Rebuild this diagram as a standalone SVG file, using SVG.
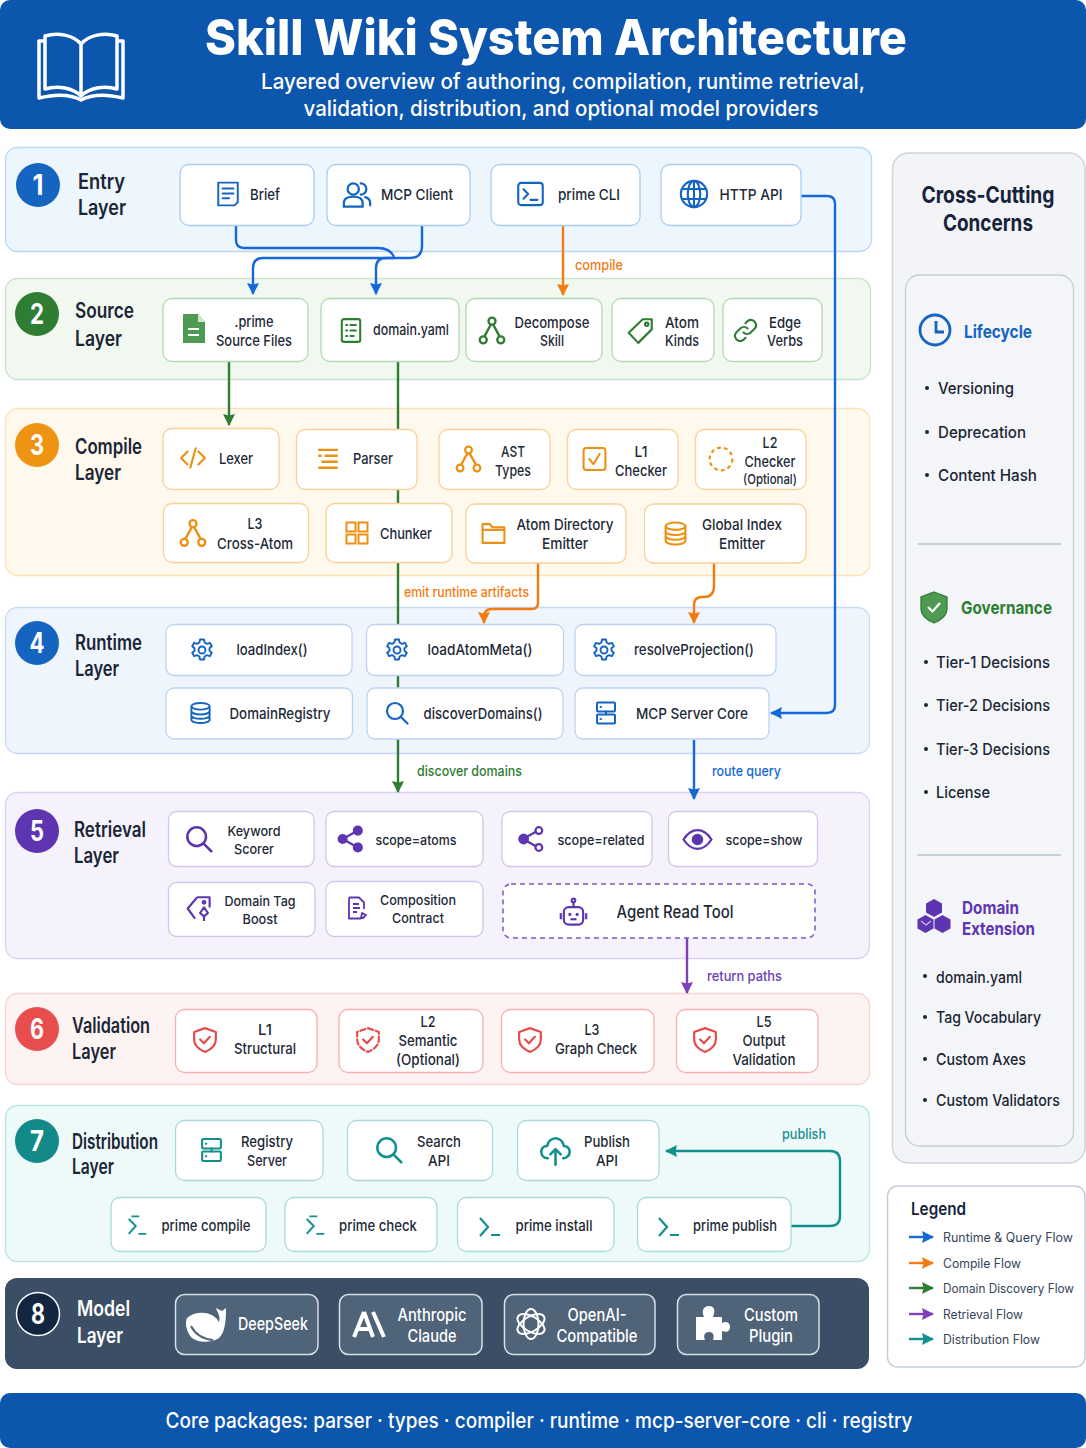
<svg xmlns="http://www.w3.org/2000/svg" width="1086" height="1448" viewBox="0 0 1086 1448">
<style>
text{font-family:Inter,"Noto Sans",sans-serif}
.nt{font-size:15px;font-weight:500;text-anchor:middle;fill:#1d2936}
.nts{font-size:13.5px;font-weight:500;text-anchor:middle;fill:#1d2936}
.mt{font-size:17px;font-weight:500;text-anchor:middle;fill:#fff}
.lt{font-size:21px;font-weight:600;fill:#1a2535}
.ltw{font-size:21px;font-weight:600;fill:#fff}
.bn{font-size:28px;font-weight:700;fill:#fff;text-anchor:middle}
.cl{font-size:14px;font-weight:500}
.item{font-size:16px;font-weight:500;fill:#1a2535}
.lg{font-size:12.5px;font-weight:400;fill:#36445a}
.sh{font-weight:700;font-size:18px}
.n{fill:#fff;stroke-width:1.3}
.b1{stroke:#a9cdf2}.b2{stroke:#b5d8b5}.b3{stroke:#f9d096}.b4{stroke:#bad4f0}.b5{stroke:#d2c6ec}.b6{stroke:#f6b0b0}.b7{stroke:#a8dbd8}
.b8{fill:#4f6379;stroke:#d7dee6;stroke-width:1.5}
.line{fill:none;stroke-width:2.4}
.ic{color:#1565c0}.ig{color:#2e7d32}.io{color:#ec9012}.ip{color:#5e35b1}.ir{color:#e64a4a}.it{color:#12908e}.iw{color:#fff}
</style>
<defs>
<marker id="mb" markerUnits="userSpaceOnUse" markerWidth="13" markerHeight="13" refX="11" refY="6.5" orient="auto"><path d="M0 0.500L12 6.500L0 12.500L1.500 6.500z" fill="#1668d9"/></marker>
<marker id="mo" markerUnits="userSpaceOnUse" markerWidth="13" markerHeight="13" refX="11" refY="6.5" orient="auto"><path d="M0 0.500L12 6.500L0 12.500L1.500 6.500z" fill="#f47a12"/></marker>
<marker id="mg" markerUnits="userSpaceOnUse" markerWidth="13" markerHeight="13" refX="11" refY="6.5" orient="auto"><path d="M0 0.500L12 6.500L0 12.500L1.500 6.500z" fill="#2e7d32"/></marker>
<marker id="mp" markerUnits="userSpaceOnUse" markerWidth="13" markerHeight="13" refX="11" refY="6.5" orient="auto"><path d="M0 0.500L12 6.500L0 12.500L1.500 6.500z" fill="#7e3fb8"/></marker>
<marker id="mt" markerUnits="userSpaceOnUse" markerWidth="13" markerHeight="13" refX="11" refY="6.5" orient="auto"><path d="M0 0.500L12 6.500L0 12.500L1.500 6.500z" fill="#12908e"/></marker>
<symbol id="i-doc" viewBox="0 0 24 24"><path d="M3 1.500h18v18l-3 3H3zM7 7h10M7 11.500h10M7 16h6" fill="none" stroke="currentColor" stroke-width="1.800" stroke-linejoin="round" stroke-linecap="round"/></symbol>
<symbol id="i-users" viewBox="0 0 24 24"><g fill="none" stroke="currentColor" stroke-width="1.800" stroke-linecap="round"><circle cx="9" cy="8" r="4.500"/><path d="M1.500 22v-3c0-3 3-5 7.500-5s7.500 2 7.500 5v3zM15 3.500a4.500 4.500 0 0 1 0 9M18.500 14.500c2.500.8 4 2.500 4 4.500v2"/></g></symbol>
<symbol id="i-term" viewBox="0 0 24 24"><g fill="none" stroke="currentColor" stroke-width="1.800" stroke-linecap="round" stroke-linejoin="round"><rect x="1.500" y="2.500" width="21" height="19" rx="2.500"/><path d="M6 8l4 4-4 4M12 17h6"/></g></symbol>
<symbol id="i-globe" viewBox="0 0 24 24"><g fill="none" stroke="currentColor" stroke-width="1.700"><circle cx="12" cy="12" r="10.500"/><ellipse cx="12" cy="12" rx="5" ry="10.500"/><path d="M12 1.500v21M2 8h20M2 16h20"/></g></symbol>
<symbol id="i-list" viewBox="0 0 24 24"><g fill="none" stroke="currentColor" stroke-width="1.900" stroke-linecap="round"><rect x="3.500" y="1.500" width="17" height="21" rx="2"/><path d="M7.500 7h1M11.500 7h5M7.500 12h1M11.500 12h5M7.500 17h1M11.500 17h3"/></g></symbol>
<symbol id="i-tree" viewBox="0 0 24 24"><g fill="none" stroke="currentColor" stroke-width="2"><circle cx="12" cy="4" r="3"/><circle cx="4.500" cy="20" r="3"/><circle cx="19.500" cy="20" r="3"/><path d="M11 7L5.500 17M13 7l5.500 10"/></g></symbol>
<symbol id="i-tag" viewBox="0 0 24 24"><g fill="none" stroke="currentColor" stroke-width="1.900" stroke-linejoin="round"><path d="M14 2h8v9L10 23 1.500 14z"/><circle cx="17.500" cy="6.500" r="1.500"/></g></symbol>
<symbol id="i-link" viewBox="0 0 24 24"><g fill="none" stroke="currentColor" stroke-width="2" stroke-linecap="round"><path d="M10 14a5 5 0 0 0 7 0l4-4a5 5 0 0 0-7-7l-2 2"/><path d="M14 10a5 5 0 0 0-7 0l-4 4a5 5 0 0 0 7 7l2-2"/></g></symbol>
<symbol id="i-code" viewBox="0 0 24 24"><path d="M7 6l-6 6 6 6M17 6l6 6-6 6M14.500 3l-5 18" fill="none" stroke="currentColor" stroke-width="2" stroke-linecap="round" stroke-linejoin="round"/></symbol>
<symbol id="i-lines" viewBox="0 0 24 24"><path d="M3 4h18M3 9.500h3M9 9.500h12M6 15h15M3 20.500h18" fill="none" stroke="currentColor" stroke-width="2.200"/></symbol>
<symbol id="i-check" viewBox="0 0 24 24"><g fill="none" stroke="currentColor" stroke-width="2" stroke-linecap="round" stroke-linejoin="round"><rect x="1.500" y="1.500" width="21" height="21" rx="2.500"/><path d="M7 12l4 5 6-10"/></g></symbol>
<symbol id="i-dash" viewBox="0 0 24 24"><circle cx="12" cy="12" r="10.500" fill="none" stroke="currentColor" stroke-width="2" stroke-dasharray="3.500 3"/></symbol>
<symbol id="i-grid" viewBox="0 0 24 24"><g fill="none" stroke="currentColor" stroke-width="2"><rect x="1.500" y="1.500" width="9" height="9"/><rect x="13.500" y="1.500" width="9" height="9"/><rect x="1.500" y="13.500" width="9" height="9"/><rect x="13.500" y="13.500" width="9" height="9"/></g></symbol>
<symbol id="i-folder" viewBox="0 0 24 24"><path d="M1.500 21.500V3.500h7l2.500 3h11.500v15zM1.500 9h21" fill="none" stroke="currentColor" stroke-width="2" stroke-linejoin="round"/></symbol>
<symbol id="i-db" viewBox="0 0 24 24"><g fill="none" stroke="currentColor" stroke-width="2"><ellipse cx="12" cy="5" rx="9.500" ry="3.500"/><path d="M2.500 5v14c0 2 4.300 3.500 9.500 3.500s9.500-1.500 9.500-3.500V5M2.500 10c0 2 4.300 3.500 9.500 3.500s9.500-1.500 9.500-3.500M2.500 14.500c0 2 4.300 3.500 9.500 3.500s9.500-1.500 9.500-3.500"/></g></symbol>
<symbol id="i-gear" viewBox="0 0 24 24"><g fill="none" stroke="currentColor" stroke-width="1.900" stroke-linejoin="round"><path d="M10 1.500h4l.6 3 2.300 1.300 2.900-1 2 3.500-2.300 2v2.400l2.300 2-2 3.500-2.900-1-2.300 1.300-.6 3h-4l-.6-3-2.300-1.300-2.900 1-2-3.500 2.300-2v-2.400l-2.300-2 2-3.500 2.900 1 2.300-1.300z"/><circle cx="12" cy="12" r="3.500"/></g></symbol>
<symbol id="i-search" viewBox="0 0 24 24"><g fill="none" stroke="currentColor" stroke-width="2.200" stroke-linecap="round"><circle cx="10" cy="10" r="8"/><path d="M16 16l6.500 6.500"/></g></symbol>
<symbol id="i-server" viewBox="0 0 24 24"><g fill="none" stroke="currentColor" stroke-width="2" stroke-linecap="round"><rect x="3" y="1.500" width="18" height="9" rx="1"/><rect x="3" y="13.500" width="18" height="9" rx="1"/><path d="M6.500 6h.5M6.500 18h.5M12 10.500v3"/></g></symbol>
<symbol id="i-share" viewBox="0 0 24 24"><g fill="currentColor" stroke="currentColor" stroke-width="2"><circle cx="5" cy="12" r="3.500"/><circle cx="18.500" cy="4.500" r="3.500"/><circle cx="18.500" cy="19.500" r="3.500"/><path d="M5 12L18.500 4.500M5 12l13.500 7.500"/></g></symbol>
<symbol id="i-share2" viewBox="0 0 24 24"><g stroke="currentColor" stroke-width="2"><circle cx="5" cy="12" r="3.800" fill="currentColor"/><circle cx="18.500" cy="4.500" r="3" fill="#fff"/><circle cx="18.500" cy="19.500" r="3" fill="#fff"/><path d="M8 10l8-4.500M8 14l8 4.500"/></g></symbol>
<symbol id="i-eye" viewBox="0 0 30 24"><g fill="none" stroke="currentColor" stroke-width="2.200"><path d="M1.500 12C6 5 10 3 15 3s9 2 13.500 9C24 19 20 21 15 21S6 19 1.500 12z"/><circle cx="15" cy="12" r="4.500" fill="currentColor"/></g></symbol>
<symbol id="i-tag2" viewBox="0 0 24 24"><g fill="none" stroke="currentColor" stroke-width="1.900" stroke-linejoin="round"><path d="M10 2h11v9M8 21L1.500 12 10 2"/><circle cx="16" cy="6.500" r="1.200"/><path d="M16 23v-4M16 11l3.500 5-3.500 3-3.500-3z"/></g></symbol>
<symbol id="i-doc2" viewBox="0 0 24 24"><g fill="none" stroke="currentColor" stroke-width="1.800" stroke-linejoin="round"><path d="M4 1.500h10l5 5V13M4 1.500v21h12"/><path d="M8 8h6M8 12h7M8 16h4M16 22l1-5 4 2-3 3z"/></g></symbol>
<symbol id="i-bot" viewBox="0 0 24 24"><g fill="none" stroke="currentColor" stroke-width="1.800"><circle cx="12" cy="2.500" r="1.500"/><path d="M12 4v4"/><rect x="4" y="8" width="16" height="14.500" rx="4"/><path d="M1.500 13v5M22.500 13v5"/></g><circle cx="9" cy="14" r="1.300" fill="currentColor"/><circle cx="15" cy="14" r="1.300" fill="currentColor"/><path d="M9.500 18h5" stroke="currentColor" stroke-width="1.800"/></symbol>
<symbol id="i-shield" viewBox="0 0 24 24"><g fill="none" stroke="currentColor" stroke-width="2" stroke-linecap="round" stroke-linejoin="round"><path d="M12 1.500l10 3.500v7c0 5-4 9-10 11.500C6 21 2 17 2 12V5z"/><path d="M7.500 12l3.500 3.500 5.500-6"/></g></symbol>
<symbol id="i-shieldd" viewBox="0 0 24 24"><g fill="none" stroke="currentColor" stroke-width="2" stroke-linecap="round" stroke-linejoin="round"><path d="M12 1.500l10 3.500v7c0 5-4 9-10 11.500C6 21 2 17 2 12V5z" stroke-dasharray="5 2.500"/><path d="M7.500 12l3.500 3.500 5.500-6"/></g></symbol>
<symbol id="i-cloud" viewBox="0 0 24 24"><g fill="none" stroke="currentColor" stroke-width="2" stroke-linecap="round" stroke-linejoin="round"><path d="M6 18c-3 0-5-2.200-5-5s2-4.500 4.500-4.500C6 5 9 2.500 12 2.500s6 2.500 6.500 6c2.500 0 4.500 2 4.500 4.500s-2 5-5 5"/><path d="M12 23V11M8 15l4-4 4 4"/></g></symbol>
<symbol id="i-prompt" viewBox="0 0 24 24"><path d="M2 3l8 9-8 9M13 20h9" fill="none" stroke="currentColor" stroke-width="2.200"/></symbol>
<symbol id="i-prompt2" viewBox="0 0 24 24"><path d="M2 4l8 8-8 9M13 21h9M5 1h9" fill="none" stroke="currentColor" stroke-width="2.200"/></symbol>
</defs>

<g id="header"><rect x="0" y="0" width="1086" height="129" rx="10" fill="#0d56ad"/>
<g fill="none" stroke="#fff" stroke-width="3.500" stroke-linejoin="round"><path d="M81 44C73 35 58 32 45 36V89C58 85 73 88 81 96C89 88 104 85 117 89V36C104 32 89 35 81 44V96"/><path d="M45 41H39V98C55 94 70 94 81 100C92 94 107 94 123 98V41H117"/></g>
<text x="556" y="55" font-size="50" font-weight="800" fill="#fff" text-anchor="middle" textLength="702" lengthAdjust="spacingAndGlyphs">Skill Wiki System Architecture</text>
<text x="563" y="89" font-size="22" font-weight="500" fill="#fff" text-anchor="middle" textLength="604" lengthAdjust="spacingAndGlyphs">Layered overview of authoring, compilation, runtime retrieval,</text>
<text x="561" y="116" font-size="22" font-weight="500" fill="#fff" text-anchor="middle" textLength="515" lengthAdjust="spacingAndGlyphs">validation, distribution, and optional model providers</text></g>

<g id="layer-backgrounds" stroke-width="1.300">
<rect x="5.500" y="147.500" width="866" height="104" rx="12" fill="#edf5fd" stroke="#bbd7f3"/>
<rect x="5.500" y="278.500" width="865" height="101" rx="12" fill="#f1f8f0" stroke="#cbe3cb"/>
<rect x="5.500" y="408.500" width="864" height="167" rx="12" fill="#fff8ec" stroke="#fce2b8"/>
<rect x="5.500" y="607.500" width="864" height="146" rx="12" fill="#eef5fd" stroke="#c7dcf4"/>
<rect x="5.500" y="792.500" width="864" height="166" rx="12" fill="#f5f2fc" stroke="#dbd2f1"/>
<rect x="5.500" y="993.500" width="864" height="91" rx="12" fill="#fef3f3" stroke="#fad2d2"/>
<rect x="5.500" y="1105.500" width="864" height="156" rx="12" fill="#eefafa" stroke="#bbe4e2"/>
<rect x="5" y="1278" width="864" height="91" rx="12" fill="#3b4e66"/>
</g>

<g id="connectors">
<g class="line" fill="none" stroke-width="2.400">
<path d="M236 225V240Q236 248 244 248H378Q390 248 394 257" stroke="#1668d9"/>
<path d="M422 225V246Q422 258 410 258H263Q253 258 253 268V294" stroke="#1668d9" marker-end="url(#mb)"/>
<path d="M394 258H386Q376 258 376 268V294" stroke="#1668d9" marker-end="url(#mb)"/>
<path d="M563 225V295" stroke="#f47a12" marker-end="url(#mo)"/>
<path d="M801 196H827Q835 196 835 204V705Q835 713 827 713H771" stroke="#1668d9" marker-end="url(#mb)"/>
<path d="M229 361V425" stroke="#2e7d32" marker-end="url(#mg)"/>
<path d="M398 361V792" stroke="#2e7d32" marker-end="url(#mg)"/>
<path d="M538 563V603Q538 609 532 609H492Q484 609 484 617V623" stroke="#f47a12" marker-end="url(#mo)"/>
<path d="M714 563V586Q714 597 704 597H702Q694 597 694 605V623" stroke="#f47a12" marker-end="url(#mo)"/>
<path d="M694 740V799" stroke="#1668d9" marker-end="url(#mb)"/>
<path d="M687 938V993" stroke="#7e3fb8" marker-end="url(#mp)"/>
<path d="M791 1226H830Q840 1226 840 1216V1161Q840 1151 830 1151H666" stroke="#12908e" marker-end="url(#mt)"/>
</g>
<text x="575" y="270" class="cl" fill="#f47a12" textLength="48" lengthAdjust="spacingAndGlyphs">compile</text>
<text x="404" y="597" class="cl" fill="#f47a12" textLength="125" lengthAdjust="spacingAndGlyphs">emit runtime artifacts</text>
<text x="417" y="776" class="cl" fill="#2e7d32" textLength="105" lengthAdjust="spacingAndGlyphs">discover domains</text>
<text x="712" y="776" class="cl" fill="#1668d9" textLength="69" lengthAdjust="spacingAndGlyphs">route query</text>
<text x="707" y="981" class="cl" fill="#6a3fb8" textLength="75" lengthAdjust="spacingAndGlyphs">return paths</text>
<text x="782" y="1139" class="cl" fill="#12908e" textLength="44" lengthAdjust="spacingAndGlyphs">publish</text>
</g>

<g id="layer-1">
<circle cx="38" cy="185" r="22" fill="#1565c0"/><text x="38" y="195" class="bn" textLength="11" lengthAdjust="spacingAndGlyphs">1</text>
<text x="78" y="189" class="lt" textLength="47" lengthAdjust="spacingAndGlyphs">Entry</text><text x="78" y="215" class="lt" textLength="48" lengthAdjust="spacingAndGlyphs">Layer</text>
<g id="brief"><rect class="n b1" x="180" y="164.500" width="134" height="61" rx="9"/><use href="#i-doc" x="215" y="181" width="26" height="26" class="ic"/><text x="265" y="200" class="nt" textLength="30" lengthAdjust="spacingAndGlyphs">Brief</text></g>
<g id="mcp-client"><rect class="n b1" x="327" y="164.500" width="143" height="61" rx="9"/><use href="#i-users" x="342" y="179" width="30" height="30" class="ic"/><text x="417" y="200" class="nt" textLength="72" lengthAdjust="spacingAndGlyphs">MCP Client</text></g>
<g id="prime-cli"><rect class="n b1" x="491" y="164.500" width="149" height="61" rx="9"/><use href="#i-term" x="516" y="180" width="29" height="28" class="ic"/><text x="589" y="200" class="nt" textLength="62" lengthAdjust="spacingAndGlyphs">prime CLI</text></g>
<g id="http-api"><rect class="n b1" x="661" y="164.500" width="140" height="61" rx="9"/><use href="#i-globe" x="679" y="179" width="30" height="30" class="ic"/><text x="751" y="200" class="nt" textLength="63" lengthAdjust="spacingAndGlyphs">HTTP API</text></g>
</g>

<g id="layer-2">
<circle cx="37" cy="314" r="22" fill="#2e7d32"/><text x="37" y="324" class="bn" textLength="14" lengthAdjust="spacingAndGlyphs">2</text>
<text x="75" y="318" class="lt" textLength="59" lengthAdjust="spacingAndGlyphs">Source</text><text x="75" y="346" class="lt" textLength="47" lengthAdjust="spacingAndGlyphs">Layer</text>
<g id="source-files"><rect class="n b2" x="163" y="298.500" width="145" height="63" rx="9"/><path d="M183 314H198L205 322V343H183z" fill="#4f9a52"/><path d="M198 314V322H205" fill="#cfe6cf"/><path d="M188 329H199M188 335H199" stroke="#fff" stroke-width="1.800"/><text x="254" y="327" class="nt" textLength="39" lengthAdjust="spacingAndGlyphs">.prime</text><text x="254" y="346" class="nt" textLength="76" lengthAdjust="spacingAndGlyphs">Source Files</text></g>
<g id="domain-yaml"><rect class="n b2" x="321" y="298.500" width="138" height="63" rx="9"/><use href="#i-list" x="338" y="317" width="26" height="27" class="ig"/><text x="411" y="335" class="nt" textLength="76" lengthAdjust="spacingAndGlyphs">domain.yaml</text></g>
<g id="decompose"><rect class="n b2" x="466" y="298.500" width="136" height="63" rx="9"/><use href="#i-tree" x="478" y="316" width="28" height="29" class="ig"/><text x="552" y="328" class="nt" textLength="75" lengthAdjust="spacingAndGlyphs">Decompose</text><text x="552" y="346" class="nt" textLength="24" lengthAdjust="spacingAndGlyphs">Skill</text></g>
<g id="atom-kinds"><rect class="n b2" x="612" y="298.500" width="102" height="63" rx="9"/><use href="#i-tag" x="627" y="316" width="27" height="29" class="ig"/><text x="682" y="328" class="nt" textLength="34" lengthAdjust="spacingAndGlyphs">Atom</text><text x="682" y="346" class="nt" textLength="34" lengthAdjust="spacingAndGlyphs">Kinds</text></g>
<g id="edge-verbs"><rect class="n b2" x="723" y="298.500" width="99" height="63" rx="9"/><use href="#i-link" x="733" y="317" width="25" height="27" class="ig"/><text x="785" y="328" class="nt" textLength="32" lengthAdjust="spacingAndGlyphs">Edge</text><text x="785" y="346" class="nt" textLength="36" lengthAdjust="spacingAndGlyphs">Verbs</text></g>
</g>

<g id="layer-3">
<circle cx="37" cy="445" r="22" fill="#ef9412"/><text x="37" y="455" class="bn" textLength="14" lengthAdjust="spacingAndGlyphs">3</text>
<text x="75" y="454" class="lt" textLength="67" lengthAdjust="spacingAndGlyphs">Compile</text><text x="75" y="480" class="lt" textLength="46" lengthAdjust="spacingAndGlyphs">Layer</text>
<g id="lexer"><rect class="n b3" x="163" y="428.500" width="116" height="61" rx="9"/><use href="#i-code" x="178" y="445" width="30" height="26" class="io"/><text x="236" y="464" class="nt" textLength="34" lengthAdjust="spacingAndGlyphs">Lexer</text></g>
<g id="parser"><rect class="n b3" x="296.500" y="429.500" width="120.500" height="60" rx="9"/><use href="#i-lines" x="315" y="445" width="26" height="27" class="io"/><text x="373" y="464" class="nt" textLength="40" lengthAdjust="spacingAndGlyphs">Parser</text></g>
<g id="ast-types"><rect class="n b3" x="439" y="429.500" width="111" height="60" rx="9"/><use href="#i-tree" x="455" y="445" width="27" height="28" class="io"/><text x="513" y="457" class="nt" textLength="24" lengthAdjust="spacingAndGlyphs">AST</text><text x="513" y="476" class="nt" textLength="36" lengthAdjust="spacingAndGlyphs">Types</text></g>
<g id="l1-checker"><rect class="n b3" x="567.500" y="429.500" width="110.500" height="60" rx="9"/><use href="#i-check" x="582" y="446" width="25" height="26" class="io"/><text x="641" y="457" class="nt" textLength="13" lengthAdjust="spacingAndGlyphs">L1</text><text x="641" y="476" class="nt" textLength="52" lengthAdjust="spacingAndGlyphs">Checker</text></g>
<g id="l2-checker"><rect class="n b3" x="695.500" y="429.500" width="110.500" height="60" rx="9"/><use href="#i-dash" x="708" y="446" width="26" height="26" class="io"/><text x="770" y="448" class="nt" textLength="15" lengthAdjust="spacingAndGlyphs">L2</text><text x="770" y="467" class="nt" textLength="51" lengthAdjust="spacingAndGlyphs">Checker</text><text x="770" y="484" class="nts" textLength="54" lengthAdjust="spacingAndGlyphs">(Optional)</text></g>
<g id="l3-cross-atom"><rect class="n b3" x="163.500" y="503.500" width="145" height="59" rx="9"/><use href="#i-tree" x="179" y="518" width="28" height="30" class="io"/><text x="255" y="529" class="nt" textLength="15" lengthAdjust="spacingAndGlyphs">L3</text><text x="255" y="549" class="nt" textLength="76" lengthAdjust="spacingAndGlyphs">Cross-Atom</text></g>
<g id="chunker"><rect class="n b3" x="326" y="503.500" width="126" height="59" rx="9"/><use href="#i-grid" x="345" y="520" width="24" height="26" class="io"/><text x="406" y="539" class="nt" textLength="52" lengthAdjust="spacingAndGlyphs">Chunker</text></g>
<g id="atom-directory"><rect class="n b3" x="466" y="504" width="160" height="59" rx="9"/><use href="#i-folder" x="481" y="520" width="25" height="26" class="io"/><text x="565" y="530" class="nt" textLength="97" lengthAdjust="spacingAndGlyphs">Atom Directory</text><text x="565" y="549" class="nt" textLength="46" lengthAdjust="spacingAndGlyphs">Emitter</text></g>
<g id="global-index"><rect class="n b3" x="644.500" y="504" width="161.500" height="59" rx="9"/><use href="#i-db" x="663" y="520" width="25" height="27" class="io"/><text x="742" y="530" class="nt" textLength="80" lengthAdjust="spacingAndGlyphs">Global Index</text><text x="742" y="549" class="nt" textLength="46" lengthAdjust="spacingAndGlyphs">Emitter</text></g>
</g>

<g id="layer-4">
<circle cx="37" cy="643" r="22" fill="#1565c0"/><text x="37" y="653" class="bn" textLength="15" lengthAdjust="spacingAndGlyphs">4</text>
<text x="75" y="650" class="lt" textLength="67" lengthAdjust="spacingAndGlyphs">Runtime</text><text x="75" y="676" class="lt" textLength="44" lengthAdjust="spacingAndGlyphs">Layer</text>
<g id="load-index"><rect class="n b4" x="166" y="624.500" width="186" height="51" rx="8"/><use href="#i-gear" x="190" y="637" width="24" height="26" class="ic"/><text x="272" y="655" class="nt" textLength="71" lengthAdjust="spacingAndGlyphs">loadIndex()</text></g>
<g id="load-atom-meta"><rect class="n b4" x="366.500" y="624.500" width="197" height="51" rx="8"/><use href="#i-gear" x="385" y="637" width="24" height="26" class="ic"/><text x="480" y="655" class="nt" textLength="105" lengthAdjust="spacingAndGlyphs">loadAtomMeta()</text></g>
<g id="resolve-projection"><rect class="n b4" x="575" y="624.500" width="201" height="51" rx="8"/><use href="#i-gear" x="592" y="637" width="24" height="26" class="ic"/><text x="694" y="655" class="nt" textLength="120" lengthAdjust="spacingAndGlyphs">resolveProjection()</text></g>
<g id="domain-registry"><rect class="n b4" x="166" y="688" width="186.500" height="51" rx="8"/><use href="#i-db" x="189" y="700" width="23" height="26" class="ic"/><text x="280" y="719" class="nt" textLength="101" lengthAdjust="spacingAndGlyphs">DomainRegistry</text></g>
<g id="discover-domains"><rect class="n b4" x="367" y="688" width="196" height="51" rx="8"/><use href="#i-search" x="385" y="700" width="24" height="26" class="ic"/><text x="483" y="719" class="nt" textLength="119" lengthAdjust="spacingAndGlyphs">discoverDomains()</text></g>
<g id="mcp-server-core"><rect class="n b4" x="575" y="688" width="194" height="51" rx="8"/><use href="#i-server" x="594" y="700" width="24" height="26" class="ic"/><text x="692" y="719" class="nt" textLength="112" lengthAdjust="spacingAndGlyphs">MCP Server Core</text></g>
</g>

<g id="layer-5">
<circle cx="37" cy="831" r="22" fill="#5e35b1"/><text x="37" y="841" class="bn" textLength="14" lengthAdjust="spacingAndGlyphs">5</text>
<text x="74" y="837" class="lt" textLength="72" lengthAdjust="spacingAndGlyphs">Retrieval</text><text x="74" y="863" class="lt" textLength="45" lengthAdjust="spacingAndGlyphs">Layer</text>
<g id="keyword-scorer"><rect class="n b5" x="168.500" y="811.500" width="145.500" height="55" rx="8"/><use href="#i-search" x="185" y="825" width="28" height="28" class="ip"/><text x="254" y="836" class="nts" textLength="53" lengthAdjust="spacingAndGlyphs">Keyword</text><text x="254" y="854" class="nts" textLength="40" lengthAdjust="spacingAndGlyphs">Scorer</text></g>
<g id="scope-atoms"><rect class="n b5" x="326" y="811.500" width="157" height="55" rx="8"/><use href="#i-share" x="337" y="824" width="27" height="30" class="ip"/><text x="416" y="845" class="nts" textLength="81" lengthAdjust="spacingAndGlyphs">scope=atoms</text></g>
<g id="scope-related"><rect class="n b5" x="502" y="811.500" width="150" height="55" rx="8"/><use href="#i-share2" x="518" y="824" width="27" height="30" class="ip"/><text x="601" y="845" class="nts" textLength="87" lengthAdjust="spacingAndGlyphs">scope=related</text></g>
<g id="scope-show"><rect class="n b5" x="668.500" y="811.500" width="149" height="55" rx="8"/><use href="#i-eye" x="682" y="827" width="31" height="25" class="ip"/><text x="764" y="845" class="nts" textLength="77" lengthAdjust="spacingAndGlyphs">scope=show</text></g>
<g id="domain-tag-boost"><rect class="n b5" x="168.500" y="882.500" width="146.500" height="54" rx="8"/><use href="#i-tag2" x="186" y="895" width="27" height="27" class="ip"/><text x="260" y="906" class="nts" textLength="71" lengthAdjust="spacingAndGlyphs">Domain Tag</text><text x="260" y="924" class="nts" textLength="35" lengthAdjust="spacingAndGlyphs">Boost</text></g>
<g id="composition-contract"><rect class="n b5" x="326" y="881.500" width="157" height="55" rx="8"/><use href="#i-doc2" x="345" y="894" width="24" height="28" class="ip"/><text x="418" y="905" class="nts" textLength="76" lengthAdjust="spacingAndGlyphs">Composition</text><text x="418" y="923" class="nts" textLength="52" lengthAdjust="spacingAndGlyphs">Contract</text></g>
<g id="agent-read-tool"><rect x="503" y="884" width="312" height="54" rx="8" fill="#fff" stroke="#7e57c2" stroke-width="1.500" stroke-dasharray="5 4"/><use href="#i-bot" x="559" y="897" width="29" height="30" class="ip"/><text x="675" y="918" font-size="17" font-weight="500" fill="#1d2936" text-anchor="middle" textLength="117" lengthAdjust="spacingAndGlyphs">Agent Read Tool</text></g>
</g>

<g id="layer-6">
<circle cx="37" cy="1029" r="22" fill="#e84e4e"/><text x="37" y="1039" class="bn" textLength="14" lengthAdjust="spacingAndGlyphs">6</text>
<text x="72" y="1033" class="lt" textLength="78" lengthAdjust="spacingAndGlyphs">Validation</text><text x="72" y="1059" class="lt" textLength="44" lengthAdjust="spacingAndGlyphs">Layer</text>
<g id="v-l1"><rect class="n b6" x="175.500" y="1009.500" width="141.500" height="63" rx="9"/><use href="#i-shield" x="192" y="1024" width="26" height="31" class="ir"/><text x="265" y="1035" class="nt" textLength="14" lengthAdjust="spacingAndGlyphs">L1</text><text x="265" y="1054" class="nt" textLength="62" lengthAdjust="spacingAndGlyphs">Structural</text></g>
<g id="v-l2"><rect class="n b6" x="339" y="1009.500" width="144" height="63" rx="9"/><use href="#i-shieldd" x="355" y="1024" width="26" height="31" class="ir"/><text x="428" y="1027" class="nt" textLength="15" lengthAdjust="spacingAndGlyphs">L2</text><text x="428" y="1046" class="nt" textLength="59" lengthAdjust="spacingAndGlyphs">Semantic</text><text x="428" y="1065" class="nt" textLength="64" lengthAdjust="spacingAndGlyphs">(Optional)</text></g>
<g id="v-l3"><rect class="n b6" x="501.500" y="1009.500" width="152.500" height="63" rx="9"/><use href="#i-shield" x="517" y="1024" width="26" height="31" class="ir"/><text x="592" y="1035" class="nt" textLength="15" lengthAdjust="spacingAndGlyphs">L3</text><text x="596" y="1054" class="nt" textLength="82" lengthAdjust="spacingAndGlyphs">Graph Check</text></g>
<g id="v-l5"><rect class="n b6" x="676.500" y="1009.500" width="141.500" height="63" rx="9"/><use href="#i-shield" x="692" y="1024" width="26" height="31" class="ir"/><text x="764" y="1027" class="nt" textLength="15" lengthAdjust="spacingAndGlyphs">L5</text><text x="764" y="1046" class="nt" textLength="43" lengthAdjust="spacingAndGlyphs">Output</text><text x="764" y="1065" class="nt" textLength="63" lengthAdjust="spacingAndGlyphs">Validation</text></g>
</g>

<g id="layer-7">
<circle cx="37" cy="1141" r="22" fill="#128a8a"/><text x="37" y="1151" class="bn" textLength="14" lengthAdjust="spacingAndGlyphs">7</text>
<text x="72" y="1149" class="lt" textLength="86" lengthAdjust="spacingAndGlyphs">Distribution</text><text x="72" y="1174" class="lt" textLength="42" lengthAdjust="spacingAndGlyphs">Layer</text>
<g id="registry-server"><rect class="n b7" x="175.500" y="1120.500" width="147.500" height="60" rx="9"/><use href="#i-server" x="199" y="1135" width="25" height="30" class="it"/><text x="267" y="1147" class="nt" textLength="52" lengthAdjust="spacingAndGlyphs">Registry</text><text x="267" y="1166" class="nt" textLength="40" lengthAdjust="spacingAndGlyphs">Server</text></g>
<g id="search-api"><rect class="n b7" x="347.500" y="1120.500" width="145" height="60" rx="9"/><use href="#i-search" x="375" y="1135" width="28" height="30" class="it"/><text x="439" y="1147" class="nt" textLength="44" lengthAdjust="spacingAndGlyphs">Search</text><text x="439" y="1166" class="nt" textLength="22" lengthAdjust="spacingAndGlyphs">API</text></g>
<g id="publish-api"><rect class="n b7" x="517.500" y="1120.500" width="141.500" height="60" rx="9"/><use href="#i-cloud" x="540" y="1135" width="31" height="31" class="it"/><text x="607" y="1147" class="nt" textLength="46" lengthAdjust="spacingAndGlyphs">Publish</text><text x="607" y="1166" class="nt" textLength="22" lengthAdjust="spacingAndGlyphs">API</text></g>
<g id="prime-compile"><rect class="n b7" x="111" y="1197.500" width="155" height="54" rx="9"/><use href="#i-prompt2" x="127" y="1213" width="21" height="26" class="it"/><text x="206" y="1231" class="nt" textLength="89" lengthAdjust="spacingAndGlyphs">prime compile</text></g>
<g id="prime-check"><rect class="n b7" x="285" y="1197.500" width="152" height="54" rx="9"/><use href="#i-prompt2" x="305" y="1213" width="21" height="26" class="it"/><text x="378" y="1231" class="nt" textLength="78" lengthAdjust="spacingAndGlyphs">prime check</text></g>
<g id="prime-install"><rect class="n b7" x="457.500" y="1197.500" width="156.500" height="54" rx="9"/><use href="#i-prompt" x="478" y="1215" width="24" height="24" class="it"/><text x="554" y="1231" class="nt" textLength="77" lengthAdjust="spacingAndGlyphs">prime install</text></g>
<g id="prime-publish"><rect class="n b7" x="637.500" y="1197.500" width="153.500" height="54" rx="9"/><use href="#i-prompt" x="657" y="1215" width="24" height="24" class="it"/><text x="735" y="1231" class="nt" textLength="84" lengthAdjust="spacingAndGlyphs">prime publish</text></g>
</g>

<g id="layer-8">
<circle cx="38" cy="1314" r="21.500" fill="#12263f" stroke="#fff" stroke-width="1.500"/><text x="38" y="1324" class="bn" textLength="14" lengthAdjust="spacingAndGlyphs">8</text>
<text x="77" y="1316" class="ltw" textLength="53" lengthAdjust="spacingAndGlyphs">Model</text><text x="77" y="1343" class="ltw" textLength="46" lengthAdjust="spacingAndGlyphs">Layer</text>
<g id="deepseek"><rect class="b8" x="175.500" y="1294.500" width="142.500" height="60" rx="9"/><path d="M187 1318C196 1310 213 1311 219 1322C221 1316 217 1312 216 1308L222 1311L226 1308C226 1316 226 1332 219 1338C210 1344 193 1343 189 1334C186 1328 185 1323 187 1318z" fill="#fff"/><path d="M191 1326C195 1334 203 1339 213 1340" stroke="#4f6379" stroke-width="2" fill="none"/><text x="273" y="1330" class="mt" textLength="70" lengthAdjust="spacingAndGlyphs">DeepSeek</text></g>
<g id="anthropic-claude"><rect class="b8" x="339.500" y="1294.500" width="142.500" height="60" rx="9"/><path d="M354 1337L364 1312M364 1312L373 1337M358 1329H370M373 1312L384 1337" fill="none" stroke="#fff" stroke-width="4"/><text x="432" y="1321" class="mt" textLength="69" lengthAdjust="spacingAndGlyphs">Anthropic</text><text x="432" y="1342" class="mt" textLength="49" lengthAdjust="spacingAndGlyphs">Claude</text></g>
<g id="openai-compatible"><rect class="b8" x="504.500" y="1294.500" width="150.500" height="60" rx="9"/><g fill="none" stroke="#fff" stroke-width="2" transform="translate(531 1324)"><ellipse rx="15" ry="7.500" transform="rotate(30)"/><ellipse rx="15" ry="7.500" transform="rotate(90)"/><ellipse rx="15" ry="7.500" transform="rotate(150)"/></g><text x="597" y="1321" class="mt" textLength="59" lengthAdjust="spacingAndGlyphs">OpenAI-</text><text x="597" y="1342" class="mt" textLength="81" lengthAdjust="spacingAndGlyphs">Compatible</text></g>
<g id="custom-plugin"><rect class="b8" x="677.500" y="1294.500" width="141.500" height="60" rx="9"/><path d="M696 1317H704C701 1310 704 1306 709 1306C714 1306 716 1310 713 1317H722V1323C728 1320 730 1324 730 1327C730 1331 727 1333 722 1331V1340H713C715 1334 712 1332 709 1332C705 1332 703 1335 705 1340H696z" fill="#fff"/><text x="771" y="1321" class="mt" textLength="54" lengthAdjust="spacingAndGlyphs">Custom</text><text x="771" y="1342" class="mt" textLength="44" lengthAdjust="spacingAndGlyphs">Plugin</text></g>
</g>

<g id="cross-cutting">
<rect x="892.500" y="153" width="192.500" height="1010" rx="16" fill="#f2f4f7" stroke="#cdd4dc" stroke-width="1.500"/>
<text x="988" y="203" font-size="23" font-weight="700" fill="#16233a" text-anchor="middle" textLength="133" lengthAdjust="spacingAndGlyphs">Cross-Cutting</text>
<text x="988" y="231" font-size="23" font-weight="700" fill="#16233a" text-anchor="middle" textLength="90" lengthAdjust="spacingAndGlyphs">Concerns</text>
<rect x="905.500" y="275" width="168" height="871" rx="14" fill="#f3f5f8" stroke="#c5cdd7" stroke-width="1.300"/>
<g id="lifecycle"><circle cx="935" cy="330" r="15" fill="none" stroke="#1565c0" stroke-width="2.800"/><path d="M936 321V332H944" fill="none" stroke="#1565c0" stroke-width="2.800"/><text x="964" y="338" class="sh" fill="#1565c0" textLength="68" lengthAdjust="spacingAndGlyphs">Lifecycle</text>
<circle cx="927" cy="388" r="2" fill="#1a2535"/><text x="938" y="394" class="item" textLength="76" lengthAdjust="spacingAndGlyphs">Versioning</text>
<circle cx="927" cy="432" r="2" fill="#1a2535"/><text x="938" y="438" class="item" textLength="88" lengthAdjust="spacingAndGlyphs">Deprecation</text>
<circle cx="927" cy="475" r="2" fill="#1a2535"/><text x="938" y="481" class="item" textLength="99" lengthAdjust="spacingAndGlyphs">Content Hash</text></g>
<path d="M917.500 544H1061" stroke="#b7c1cc" stroke-width="1.300"/>
<g id="governance"><path d="M934 592L947 597V609C947 616 941 620 934 623C927 620 921 616 921 609V597z" fill="#4f9a52" stroke="#2e7d32" stroke-width="1.300"/><path d="M928 607L932.500 611.500L940 603" fill="none" stroke="#fff" stroke-width="2.200"/><text x="961" y="614" class="sh" font-size="17" fill="#2e7d32" textLength="91" lengthAdjust="spacingAndGlyphs">Governance</text>
<circle cx="926" cy="662" r="2" fill="#1a2535"/><text x="936" y="668" class="item" textLength="114" lengthAdjust="spacingAndGlyphs">Tier-1 Decisions</text>
<circle cx="926" cy="705" r="2" fill="#1a2535"/><text x="936" y="711" class="item" textLength="114" lengthAdjust="spacingAndGlyphs">Tier-2 Decisions</text>
<circle cx="926" cy="749" r="2" fill="#1a2535"/><text x="936" y="755" class="item" textLength="114" lengthAdjust="spacingAndGlyphs">Tier-3 Decisions</text>
<circle cx="926" cy="792" r="2" fill="#1a2535"/><text x="936" y="798" class="item" textLength="54" lengthAdjust="spacingAndGlyphs">License</text></g>
<path d="M917.500 855H1061" stroke="#b7c1cc" stroke-width="1.300"/>
<g id="domain-extension" fill="#5e35b1"><path d="M934 899L942 903.500V912.500L934 917L926 912.500V903.500z"/><path d="M925.500 915L933.500 919.500V928.500L925.500 933L917.500 928.500V919.500z"/><path d="M942.500 915L950.500 919.500V928.500L942.500 933L934.500 928.500V919.500z"/><path d="M921 921L926 925L931 921" fill="none" stroke="#cfc4ea" stroke-width="1.200"/><text x="962" y="914" class="sh" fill="#5e35b1" textLength="57" lengthAdjust="spacingAndGlyphs">Domain</text><text x="962" y="935" class="sh" fill="#5e35b1" textLength="73" lengthAdjust="spacingAndGlyphs">Extension</text>
<circle cx="925" cy="976" r="2" fill="#1a2535"/><text x="936" y="983" class="item" textLength="86" lengthAdjust="spacingAndGlyphs">domain.yaml</text>
<circle cx="925" cy="1017" r="2" fill="#1a2535"/><text x="936" y="1023" class="item" textLength="105" lengthAdjust="spacingAndGlyphs">Tag Vocabulary</text>
<circle cx="925" cy="1059" r="2" fill="#1a2535"/><text x="936" y="1065" class="item" textLength="90" lengthAdjust="spacingAndGlyphs">Custom Axes</text>
<circle cx="925" cy="1100" r="2" fill="#1a2535"/><text x="936" y="1106" class="item" textLength="124" lengthAdjust="spacingAndGlyphs">Custom Validators</text></g>
</g>

<g id="legend">
<rect x="887.500" y="1186" width="197.500" height="181" rx="10" fill="#fff" stroke="#c5cdd7" stroke-width="1.500"/>
<text x="911" y="1215" font-size="17" font-weight="600" fill="#16233a" textLength="55" lengthAdjust="spacingAndGlyphs">Legend</text>
<path d="M909 1237H933" stroke="#1668d9" stroke-width="2.400" marker-end="url(#mb)"/><text x="943" y="1242" class="lg" textLength="130" lengthAdjust="spacingAndGlyphs">Runtime &amp; Query Flow</text>
<path d="M909 1263H933" stroke="#f47a12" stroke-width="2.400" marker-end="url(#mo)"/><text x="943" y="1268" class="lg" textLength="78" lengthAdjust="spacingAndGlyphs">Compile Flow</text>
<path d="M909 1288H933" stroke="#2e7d32" stroke-width="2.400" marker-end="url(#mg)"/><text x="943" y="1293" class="lg" textLength="131" lengthAdjust="spacingAndGlyphs">Domain Discovery Flow</text>
<path d="M909 1314H933" stroke="#7e3fb8" stroke-width="2.400" marker-end="url(#mp)"/><text x="943" y="1319" class="lg" textLength="80" lengthAdjust="spacingAndGlyphs">Retrieval Flow</text>
<path d="M909 1339H933" stroke="#12908e" stroke-width="2.400" marker-end="url(#mt)"/><text x="943" y="1344" class="lg" textLength="97" lengthAdjust="spacingAndGlyphs">Distribution Flow</text>
</g>

<g id="footer"><rect x="0" y="1393" width="1086" height="55" rx="10" fill="#0d56ad"/>
<text x="539" y="1428" font-size="21" font-weight="500" fill="#fff" text-anchor="middle" textLength="747" lengthAdjust="spacingAndGlyphs">Core packages: parser · types · compiler · runtime · mcp-server-core · cli · registry</text></g>
</svg>
